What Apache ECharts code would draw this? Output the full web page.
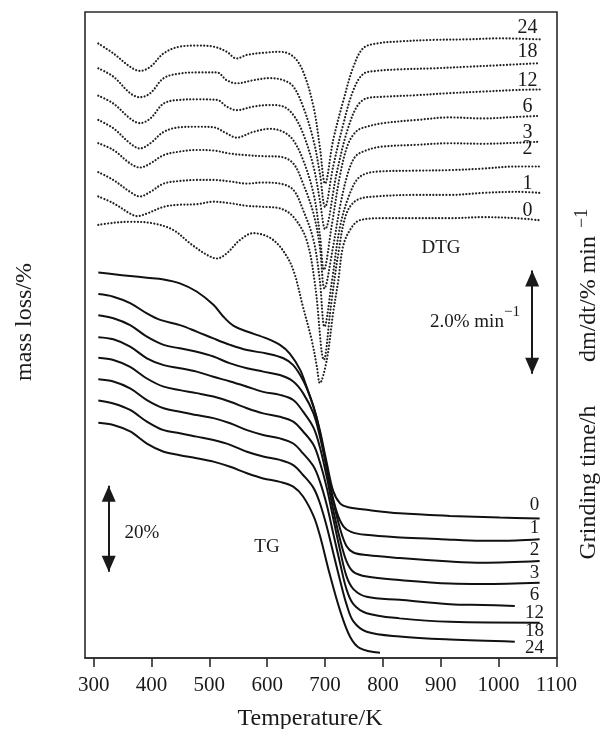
<!DOCTYPE html>
<html>
<head>
<meta charset="utf-8">
<script src="https://cdn.jsdelivr.net/npm/echarts@6/dist/echarts.min.js"></script>
<style>
  html, body { margin: 0; padding: 0; background: #fff; }
  #chart { width: 610px; height: 729px; }
</style>
</head>
<body>
<div id="chart"></div>
<script>
// Grinding times (h) of the milled samples, in drawing order
const grindingTimes = [0, 1, 2, 3, 6, 12, 18, 24];

// Temperature axis ticks (K)
const tempTicks = [300, 400, 500, 600, 700, 800, 900, 1000, 1100];

// TG curves: [temperature K, mass (%), curves offset vertically for clarity]
const TG_0h = [[308,89.5],[335,89.1],[363,88.7],[392,88.3],[421,87.9],[449,87.0],[478,85.1],[507,82.0],[524,79.3],[542,77.1],[565,75.8],[599,74.2],[622,72.7],[639,70.7],[657,66.9],[668,63.0],[680,58.4],[691,52.9],[703,45.3],[714,38.8],[726,35.9],[740,35.0],[772,34.4],[829,33.6],[916,33.0],[1002,32.6],[1071,32.4]];
const TG_1h = [[308,84.5],[334,83.9],[363,82.4],[392,80.0],[415,78.5],[449,77.3],[478,75.8],[507,74.2],[536,72.7],[565,71.5],[599,70.7],[628,69.6],[645,68.0],[662,64.5],[674,60.7],[685,56.0],[697,48.5],[708,40.5],[720,34.0],[732,30.5],[745,29.3],[770,28.6],[830,28.0],[900,27.6],[970,27.2],[1030,27.3],[1071,27.6]];
const TG_2h = [[308,79.6],[334,78.9],[363,77.3],[392,74.6],[421,72.7],[449,71.9],[478,71.1],[507,70.0],[536,68.4],[565,67.3],[593,66.5],[622,65.7],[645,64.2],[662,61.5],[680,56.8],[691,51.5],[703,44.0],[714,36.5],[726,30.0],[737,26.0],[749,24.5],[772,23.9],[829,23.2],[916,22.4],[973,22.1],[1071,22.5]];
const TG_3h = [[308,74.5],[334,74.0],[363,72.3],[392,69.6],[421,68.0],[449,67.3],[478,66.5],[507,65.3],[536,64.2],[565,63.0],[593,61.8],[622,61.1],[645,59.9],[662,57.2],[680,53.5],[691,49.0],[703,42.0],[714,34.5],[726,27.5],[737,22.5],[749,20.0],[772,18.9],[829,18.1],[916,17.3],[973,17.2],[1071,17.5]];
const TG_6h = [[308,69.7],[334,69.2],[363,67.6],[392,64.9],[421,63.0],[449,62.2],[478,61.5],[507,60.7],[536,59.5],[565,58.0],[593,56.8],[622,56.0],[645,54.9],[662,52.6],[680,49.5],[691,45.5],[703,39.5],[714,32.5],[726,25.0],[737,19.0],[749,16.0],[772,14.2],[829,13.5],[916,12.5],[973,12.3],[1028,12.1]];
const TG_12h = [[308,64.7],[334,64.2],[363,62.6],[392,59.9],[421,58.0],[449,57.2],[478,56.4],[507,55.7],[536,54.5],[565,52.9],[593,51.8],[622,51.0],[645,49.8],[662,47.5],[680,44.5],[691,41.0],[703,35.5],[714,29.0],[726,22.0],[737,16.0],[749,12.5],[772,10.4],[829,9.2],[916,8.4],[1071,8.2]];
const TG_18h = [[308,59.8],[334,59.1],[363,57.6],[392,54.9],[421,52.9],[449,52.2],[478,51.4],[507,50.6],[536,49.5],[565,47.9],[593,46.8],[622,46.0],[645,44.8],[662,42.5],[680,39.5],[691,36.0],[703,30.5],[714,24.5],[726,18.0],[737,12.5],[749,8.5],[772,6.1],[829,5.0],[916,4.3],[1028,3.8]];
const TG_24h = [[308,54.6],[334,54.1],[363,52.6],[392,49.8],[421,47.9],[449,47.1],[478,46.4],[507,45.6],[536,44.4],[565,42.9],[593,41.7],[622,40.9],[645,39.8],[662,37.5],[680,33.0],[691,28.5],[708,19.5],[726,11.0],[743,5.0],[760,2.3],[795,1.2]];

// DTG curves: [temperature K, dm/dt (% min^-1), offset vertically]
const DTG_0h = [[308,8.38],[334,8.42],[363,8.44],[403,8.41],[438,8.28],[467,8.02],[496,7.80],[513,7.73],[530,7.83],[553,8.09],[576,8.22],[605,8.13],[627,7.89],[645,7.51],[662,6.79],[677,6.15],[686,5.63],[691,5.32],[703,5.77],[714,6.68],[723,7.31],[731,7.96],[743,8.28],[760,8.47],[801,8.51],[858,8.51],[916,8.51],[973,8.53],[1031,8.51],[1071,8.47]];
const DTG_1h = [[308,8.93],[334,8.80],[363,8.60],[375,8.55],[392,8.60],[421,8.73],[449,8.77],[478,8.78],[507,8.83],[536,8.80],[565,8.75],[593,8.73],[622,8.70],[645,8.54],[668,8.09],[683,7.20],[698,5.77],[710,6.80],[724,7.90],[737,8.60],[755,8.86],[789,8.93],[858,8.96],[916,8.96],[973,9.00],[1031,9.02],[1071,9.00]];
const DTG_2h = [[308,9.40],[334,9.25],[363,9.02],[380,8.93],[398,9.02],[421,9.18],[449,9.23],[478,9.25],[507,9.25],[536,9.22],[565,9.18],[593,9.20],[622,9.18],[645,9.06],[662,8.67],[680,8.09],[691,7.30],[699,6.41],[712,7.30],[726,8.35],[743,8.99],[760,9.31],[789,9.41],[858,9.43],[916,9.44],[973,9.47],[1031,9.51],[1071,9.51]];
const DTG_3h = [[308,9.96],[334,9.83],[363,9.57],[380,9.49],[398,9.57],[421,9.73],[449,9.80],[478,9.83],[507,9.82],[536,9.76],[565,9.73],[593,9.71],[622,9.70],[645,9.57],[662,9.18],[680,8.60],[691,7.96],[699,7.15],[713,7.90],[727,8.80],[740,9.40],[752,9.70],[766,9.80],[795,9.89],[858,9.93],[916,9.96],[973,9.95],[1031,9.97],[1071,9.99]];
const DTG_6h = [[308,10.41],[334,10.25],[363,9.96],[380,9.86],[398,9.96],[421,10.18],[449,10.27],[478,10.28],[507,10.27],[530,10.15],[547,10.07],[576,10.18],[605,10.24],[628,10.18],[645,10.02],[662,9.64],[680,8.99],[691,8.20],[698,7.51],[712,8.40],[726,9.35],[740,9.95],[755,10.20],[772,10.28],[801,10.35],[858,10.41],[916,10.46],[973,10.44],[1031,10.47],[1071,10.49]];
const DTG_12h = [[308,10.88],[334,10.73],[363,10.44],[380,10.35],[398,10.44],[421,10.73],[449,10.80],[478,10.81],[513,10.80],[530,10.67],[547,10.60],[576,10.67],[605,10.70],[628,10.67],[645,10.51],[662,10.15],[680,9.51],[691,8.86],[700,8.30],[720,9.38],[737,10.15],[755,10.67],[772,10.83],[801,10.86],[858,10.89],[916,10.93],[973,10.96],[1031,10.99],[1071,11.00]];
const DTG_18h = [[308,11.41],[334,11.25],[363,10.93],[380,10.85],[398,10.93],[421,11.22],[449,11.31],[478,11.33],[513,11.33],[530,11.18],[547,11.12],[576,11.18],[605,11.22],[628,11.18],[645,11.06],[662,10.67],[680,10.02],[691,9.38],[700,8.73],[714,9.51],[732,10.35],[749,10.99],[766,11.30],[789,11.36],[829,11.39],[887,11.41],[945,11.44],[1002,11.47],[1071,11.51]];
const DTG_24h = [[308,11.89],[334,11.70],[363,11.44],[380,11.36],[398,11.44],[421,11.70],[449,11.83],[478,11.85],[507,11.83],[530,11.73],[547,11.60],[565,11.67],[593,11.71],[622,11.73],[645,11.64],[662,11.35],[680,10.67],[691,9.89],[700,9.18],[714,10.02],[732,10.80],[749,11.44],[766,11.80],[789,11.89],[829,11.93],[887,11.96],[945,11.97],[1002,11.99],[1071,11.97]];

// Scale bars: 20 % mass for TG, 2.0 % min^-1 for DTG
const tgScaleBar = { temp: 326, from: 20, to: 40, label: '20%' };
const dtgScaleBar = { temp: 1058, from: 5.5, to: 7.5, label: '2.0% min', sup: '\u22121' };

const tgCurves = [TG_0h, TG_1h, TG_2h, TG_3h, TG_6h, TG_12h, TG_18h, TG_24h];
const dtgCurves = [DTG_0h, DTG_1h, DTG_2h, DTG_3h, DTG_6h, DTG_12h, DTG_18h, DTG_24h];

// Layout: how far (px) each end label sits above its curve end
const tgLabelLift = [12, 10, 10, 9, 10, 9, 10, 3.5];
const dtgLabelLift = [9, 8, 17, 8, 8.5, 8, 10, 11];
const TG_LABEL_T = 1062;
const DTG_LABEL_T = 1050;

const SERIF = '"Liberation Serif", "DejaVu Serif", "Times New Roman", serif';
const INK = '#1a1a1a';

const chart = echarts.init(document.getElementById('chart'), null, { renderer: 'canvas' });

const series = [];
tgCurves.forEach((d, i) => {
  series.push({
    type: 'line', name: 'TG ' + grindingTimes[i] + ' h', data: d,
    xAxisIndex: 0, yAxisIndex: 0, showSymbol: false, smooth: 0.35,
    lineStyle: { color: '#111', width: 2 }, silent: true, z: 3
  });
});
dtgCurves.forEach((d, i) => {
  series.push({
    type: 'line', name: 'DTG ' + grindingTimes[i] + ' h', data: d,
    xAxisIndex: 0, yAxisIndex: 1, showSymbol: false, smooth: 0.35,
    lineStyle: { color: '#222', width: 2.2, type: [0.01, 3.3], cap: 'round' },
    silent: true, z: 2
  });
});

function scaleBarSeries(bar, yIdx) {
  return {
    type: 'line', data: [], xAxisIndex: 0, yAxisIndex: yIdx, silent: true,
    markLine: {
      silent: true, animation: false,
      symbol: ['triangle', 'triangle'], symbolSize: [14, 16],
      symbolOffset: [[0, 8], [0, 8]],
      label: { show: false },
      lineStyle: { color: INK, width: 2, type: 'solid' },
      emphasis: { disabled: true },
      data: [[{ coord: [bar.temp, bar.from] }, { coord: [bar.temp, bar.to] }]]
    }
  };
}
series.push(scaleBarSeries(tgScaleBar, 0));
series.push(scaleBarSeries(dtgScaleBar, 1));

chart.setOption({
  animation: false,
  backgroundColor: '#fff',
  grid: { left: 85, right: 53, top: 12, bottom: 71, show: true, borderColor: '#2a2a2a', borderWidth: 1.6, backgroundColor: 'transparent' },
  xAxis: {
    type: 'value', min: 285, max: 1101,
    axisLine: { show: true, lineStyle: { color: '#2a2a2a', width: 1.6 } },
    axisTick: { show: true, inside: false, length: 9, customValues: tempTicks, lineStyle: { color: '#2a2a2a', width: 1.6 } },
    axisLabel: { show: true, customValues: tempTicks, margin: 17, fontFamily: SERIF, fontSize: 21, color: INK, formatter: v => String(v) },
    splitLine: { show: false }
  },
  yAxis: [
    { type: 'value', min: 0, max: 150, show: false },
    { type: 'value', min: 0, max: 12.5, show: false }
  ],
  series: series
});

// Text: titles, curve tags and annotations
const g = [];
function txt(x, y, text, size, align, vAlign, rot) {
  g.push({
    type: 'text', x: x, y: y, rotation: rot || 0, silent: true, z: 10,
    style: { text: text, font: size + 'px ' + SERIF, fill: INK, align: align || 'center', verticalAlign: vAlign || 'middle' }
  });
}

tgCurves.forEach((d, i) => {
  const last = d[d.length - 1];
  const p = chart.convertToPixel({ xAxisIndex: 0, yAxisIndex: 0 }, [TG_LABEL_T, last[1]]);
  txt(p[0], p[1] - tgLabelLift[i] - 1, String(grindingTimes[i]), 19);
});
dtgCurves.forEach((d, i) => {
  const last = d[d.length - 1];
  const p = chart.convertToPixel({ xAxisIndex: 0, yAxisIndex: 1 }, [DTG_LABEL_T, last[1]]);
  txt(p[0], p[1] - dtgLabelLift[i] - 1, String(grindingTimes[i]), 20);
});

// Axis titles
txt(310, 719, 'Temperature/K', 24);
txt(24.5, 322, 'mass loss/%', 24, 'center', 'middle', Math.PI / 2);
txt(589, 362, 'dm/dt/% min', 24, 'left', 'middle', Math.PI / 2);
txt(582, 228, '\u22121', 18, 'left', 'middle', Math.PI / 2);
txt(588.5, 482.5, 'Grinding time/h', 24, 'center', 'middle', Math.PI / 2);

// Annotations
txt(142, 533, tgScaleBar.label, 19);
txt(441, 248, 'DTG', 19);
txt(267, 547, 'TG', 19);
txt(430, 322, dtgScaleBar.label, 19, 'left', 'middle');
txt(504, 312, dtgScaleBar.sup, 15, 'left', 'middle');

chart.setOption({ graphic: g });
</script>
</body>
</html>
